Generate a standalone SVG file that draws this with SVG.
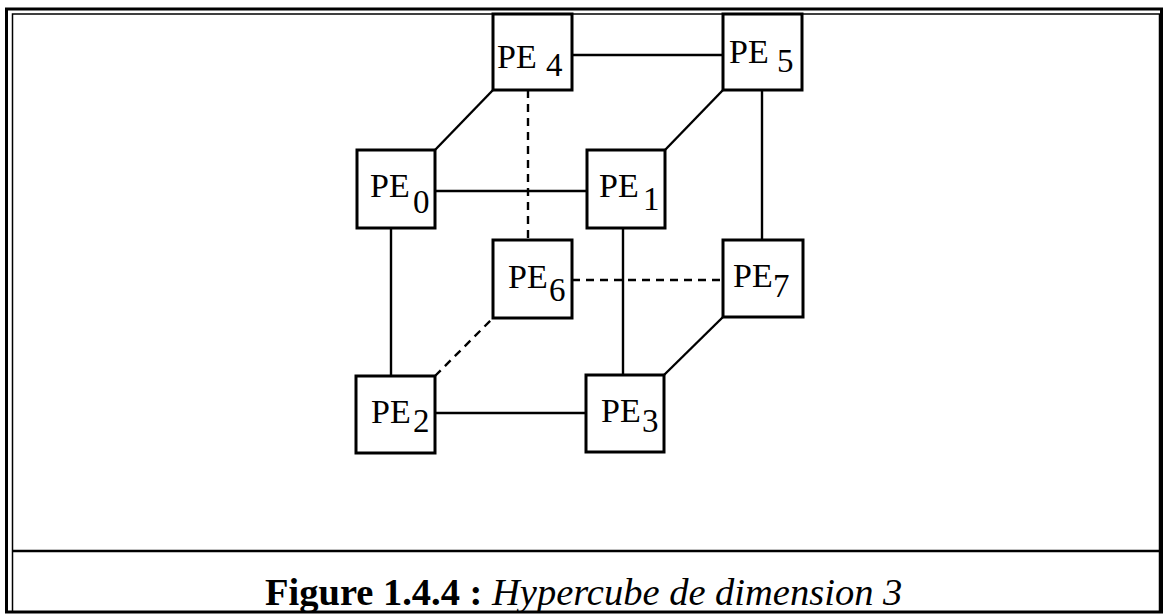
<svg xmlns="http://www.w3.org/2000/svg" width="1169" height="615" viewBox="0 0 1169 615">
<style>
.box{fill:#fff;stroke:#000;stroke-width:3}
.ln{stroke:#000;stroke-width:2.4;fill:none}
.dash{stroke-dasharray:8,6}
.pe{font-family:"Liberation Serif","Times New Roman",serif;font-size:34px;fill:#000}
.sub{font-family:"Liberation Serif","Times New Roman",serif;font-size:33px;fill:#000}
.cap{font-family:"Liberation Serif","Times New Roman",serif;font-size:38.5px;fill:#000}
</style>
<rect width="1169" height="615" fill="#fff"/>
<g id="frame">
<rect x="6.5" y="9" width="1155" height="603" fill="none" stroke="#000" stroke-width="3"/>
<rect x="12.5" y="14" width="1147" height="598" fill="none" stroke="#000" stroke-width="1.5"/>
<line x1="12" y1="551" x2="1160" y2="551" stroke="#000" stroke-width="2.5"/>
</g>
<g id="connectors">
<line class="ln" x1="572" y1="55" x2="723" y2="55"/>
<line class="ln" x1="435" y1="191" x2="587" y2="191"/>
<line class="ln dash" x1="572" y1="280" x2="723" y2="280"/>
<line class="ln" x1="435" y1="413" x2="586" y2="413"/>
<line class="ln dash" x1="528" y1="90" x2="528" y2="240"/>
<line class="ln" x1="391" y1="228" x2="391" y2="376"/>
<line class="ln" x1="623" y1="228" x2="623" y2="375"/>
<line class="ln" x1="762" y1="90" x2="762" y2="240"/>
<line class="ln" x1="435" y1="150" x2="493" y2="90"/>
<line class="ln" x1="665" y1="150" x2="723" y2="90"/>
<line class="ln dash" x1="435" y1="376" x2="493" y2="318"/>
<line class="ln" x1="664" y1="375" x2="723" y2="317"/>
</g>
<g id="pe4"><rect class="box" x="493" y="14" width="79" height="76"/><text class="pe" x="497" y="68">PE</text><text class="sub" x="546" y="76">4</text></g>
<g id="pe5"><rect class="box" x="723" y="14" width="79" height="76"/><text class="pe" x="729" y="63">PE</text><text class="sub" x="777" y="72">5</text></g>
<g id="pe0"><rect class="box" x="357" y="150" width="78" height="78"/><text class="pe" x="370" y="197">PE</text><text class="sub" x="413" y="213">0</text></g>
<g id="pe1"><rect class="box" x="587" y="150" width="78" height="78"/><text class="pe" x="599" y="197">PE</text><text class="sub" x="643" y="210">1</text></g>
<g id="pe6"><rect class="box" x="493" y="240" width="79" height="78"/><text class="pe" x="508" y="288">PE</text><text class="sub" x="549" y="301">6</text></g>
<g id="pe7"><rect class="box" x="723" y="240" width="80" height="77"/><text class="pe" x="733" y="287">PE</text><text class="sub" x="773" y="297">7</text></g>
<g id="pe2"><rect class="box" x="356" y="376" width="79" height="77"/><text class="pe" x="371" y="423">PE</text><text class="sub" x="413" y="432">2</text></g>
<g id="pe3"><rect class="box" x="586" y="375" width="78" height="77"/><text class="pe" x="601" y="422">PE</text><text class="sub" x="642" y="432">3</text></g>
<g id="caption"><text class="cap" x="265" y="605"><tspan font-weight="bold">Figure 1.4.4 :</tspan> <tspan font-style="italic">Hypercube de dimension 3</tspan></text></g>
</svg>
